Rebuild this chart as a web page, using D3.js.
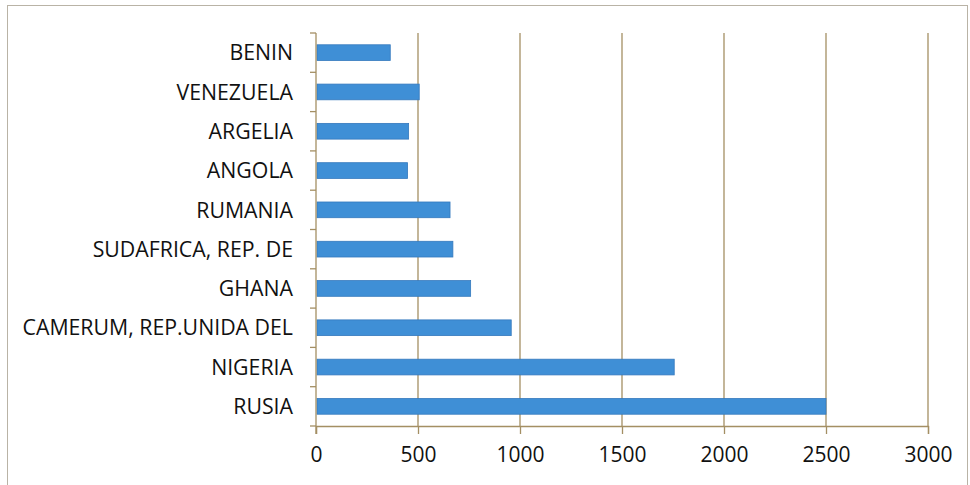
<!DOCTYPE html>
<html>
<head>
<meta charset="utf-8">
<script src="https://cdn.jsdelivr.net/npm/d3@7"></script>
<style>
  html, body { margin: 0; padding: 0; background: #fff; }
  svg { display: block; }
</style>
</head>
<body>
<svg id="chart" width="970" height="485"></svg>
<script>
const categories = ["BENIN", "VENEZUELA", "ARGELIA", "ANGOLA", "RUMANIA",
  "SUDAFRICA, REP. DE", "GHANA", "CAMERUM, REP.UNIDA DEL", "NIGERIA", "RUSIA"];
const values = [364, 506, 454, 449, 657, 671, 758, 957, 1756, 2500];
const xTicks = [0, 500, 1000, 1500, 2000, 2500, 3000];

(function () {
const svg = d3.select("#chart");
const mLeft = 316, mRight = 928, mTop = 33, mBottom = 426;
const font = "'Open Sans', sans-serif";
const axisColor = "#a48f63";

// outer frame
svg.append("rect").attr("x", 7.5).attr("y", 5.5).attr("width", 960).attr("height", 484)
  .attr("fill", "none").attr("stroke", "#b9b3a6").attr("stroke-width", 1);

const x = d3.scaleLinear().domain([0, 3000]).range([mLeft, mRight]);
const y = d3.scaleBand().domain(categories).range([mTop, mBottom]).paddingInner(0.6).paddingOuter(0.3);

// gridlines
svg.append("g").selectAll("line").data(xTicks.filter(d => d > 0)).join("line")
  .attr("x1", d => x(d)).attr("x2", d => x(d))
  .attr("y1", mTop).attr("y2", mBottom)
  .attr("stroke", axisColor).attr("stroke-width", 1.3);

// bars
svg.append("g").selectAll("rect").data(categories).join("rect")
  .attr("x", x(0) + 1)
  .attr("y", d => y(d))
  .attr("width", (d, i) => x(values[i]) - x(0) - 1)
  .attr("height", y.bandwidth())
  .attr("fill", "#3f8fd6")
  .attr("stroke", "#3579bd")
  .attr("stroke-width", 0.8);

// x axis
const xAxis = d3.axisBottom(x).tickValues(xTicks).tickFormat(d3.format("d")).tickSize(8).tickPadding(13);
const gx = svg.append("g").attr("transform", `translate(0,${mBottom})`).call(xAxis);
gx.select(".domain").attr("stroke", axisColor).attr("stroke-width", 1.3);
gx.selectAll(".tick line").attr("stroke", axisColor).attr("stroke-width", 1.3);
gx.selectAll(".tick text").attr("font-family", font).attr("font-size", 21).attr("fill", "#111");

// y axis (ticks at band boundaries)
const yStep = (mBottom - mTop) / categories.length;
const yBounds = d3.range(categories.length + 1).map(i => mTop + i * yStep);
svg.append("line").attr("x1", mLeft).attr("x2", mLeft).attr("y1", mTop).attr("y2", mBottom + 8)
  .attr("stroke", axisColor).attr("stroke-width", 1.3);
svg.append("g").selectAll("line").data(yBounds).join("line")
  .attr("x1", mLeft - 6).attr("x2", mLeft).attr("y1", d => d).attr("y2", d => d)
  .attr("stroke", axisColor).attr("stroke-width", 1.3);

svg.append("g").selectAll("text").data(categories).join("text")
  .attr("x", mLeft - 23)
  .attr("y", d => y(d) + y.bandwidth() / 2)
  .attr("dy", "0.36em")
  .attr("text-anchor", "end")
  .attr("font-family", font).attr("font-size", 21.3).attr("fill", "#111")
  .text(d => d);
})();
</script>
</body>
</html>
